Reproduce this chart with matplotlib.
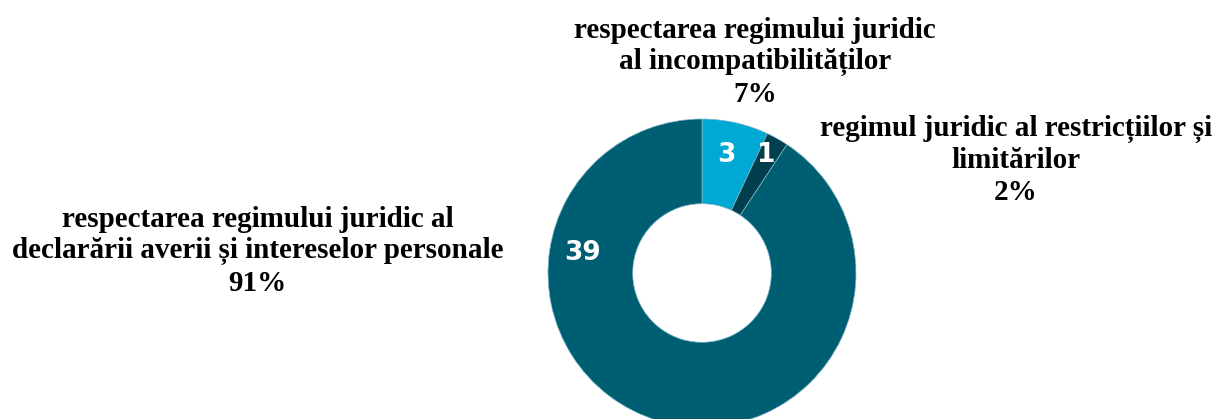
import matplotlib.pyplot as plt
import numpy as np

counts = [3, 1, 39]
categories = [
    'respectarea regimului juridic\nal incompatibilităților',
    'regimul juridic al restricțiilor și\nlimitărilor',
    'respectarea regimului juridic al\ndeclarării averii și intereselor personale',
]
colors = ['#00A9D4', '#023F4E', '#005E73']

# label placement in pie-relative terms (angle deg, radius fraction)
inner_pos = [(78.3, 0.78), (61.3, 0.87), (170.5, 0.786)]
outer_pos = [(0.62, 0.851), (0.834, 0.617), (0.2114, 0.400)]

W, H = 1218, 419
fig = plt.figure(figsize=(W / 100, H / 100), dpi=100)
ax = fig.add_axes([0, 0, 1, 1])

cx, cy, R = 702, H - 273, 154
wedges, _ = ax.pie(counts, colors=colors, startangle=90, counterclock=False,
                   center=(cx, cy), radius=R, frame=True,
                   wedgeprops=dict(width=R * 0.55, edgecolor='#7FB8C6', linewidth=0.5))
ax.set_xlim(0, W)
ax.set_ylim(0, H)
ax.set_aspect('equal')
ax.axis('off')

for n, (ang, rf) in zip(counts, inner_pos):
    a = np.deg2rad(ang)
    ax.text(cx + R * rf * np.cos(a), cy + R * rf * np.sin(a), str(n),
            ha='center', va='center', color='white', fontsize=19,
            fontweight='bold', family='DejaVu Sans')

total = sum(counts)
for lab, n, (fx, fy) in zip(categories, counts, outer_pos):
    pct = round(100 * n / total)
    fig.text(fx, fy, f'{lab}\n{pct}%', ha='center', va='center',
             fontsize=21, fontweight='bold', family='Liberation Serif',
             linespacing=1.22)

fig.savefig('out.png', dpi=100)
